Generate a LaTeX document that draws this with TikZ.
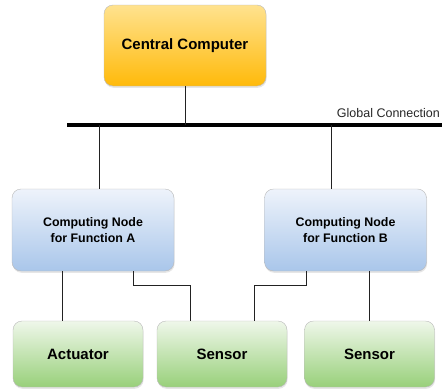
\documentclass[tikz,border=0pt]{standalone}
\usepackage{fontspec}
\setmainfont{Liberation Sans}
\usetikzlibrary{shadows}

\definecolor{orangeTop}{HTML}{FFE28F}
\definecolor{orangeBot}{HTML}{FFBA0A}
\definecolor{blueTop}{HTML}{EEF3FB}
\definecolor{blueBot}{HTML}{A9C6EA}
\definecolor{greenTop}{HTML}{EFF7EA}
\definecolor{greenBot}{HTML}{98D07A}
\definecolor{wireGray}{HTML}{222222}

\begin{document}
\begin{tikzpicture}[x=1pt, y=-1pt,
    box/.style={draw=gray!55, rounded corners=9pt, align=center, font=\bfseries,
        drop shadow={opacity=0.2, shadow xshift=0.6pt, shadow yshift=-1.8pt}},
    central/.style={box, top color=orangeTop, bottom color=orangeBot,
        minimum width=162pt, minimum height=81pt, font=\fontsize{15}{18}\bfseries},
    function/.style={box, top color=blueTop, bottom color=blueBot,
        minimum width=162pt, minimum height=82pt, font=\fontsize{12.4}{16}\bfseries},
    device/.style={box, top color=greenTop, bottom color=greenBot,
        minimum width=130pt, minimum height=66pt, font=\fontsize{15}{18}\bfseries},
    wire/.style={draw=wireGray, line width=0.9pt},
    bus/.style={draw=black, line width=4pt}]
    \useasboundingbox (0,0) rectangle (442,391);

    \node[central]  (Central)  at (185,45.5)  {Central Computer};
    \node[function] (Function A) at (93,230)  {Computing Node\\for Function A};
    \node[function] (Function B) at (345.5,230) {Computing Node\\for Function B};
    \node[device]   (Actuator) at (78,354)    {Actuator};
    \node[device]   (Sensor A) at (222,354)   {Sensor};
    \node[device]   (Sensor B) at (369.5,354) {Sensor};

    % global connection
    \coordinate (Bus West) at (67,125);
    \coordinate (Bus East) at (442,125);
    \coordinate (Tap A) at (99,125);
    \coordinate (Tap B) at (331,125);
    \draw[bus] (Bus West) -- (Bus East);
    \node[anchor=base east, inner sep=0pt, font=\fontsize{12.5}{15}\selectfont, text=black!85]
        (Bus Label) at (440,117) {Global Connection};

    \draw[wire] (Central.south) -- (Central.south |- Bus West);
    \draw[wire] (Tap A) -- (Tap A |- Function A.north);
    \draw[wire] (Tap B) -- (Tap B |- Function B.north);

    \draw[wire] ([xshift=-31pt]Function A.south) -- ([xshift=-16pt]Actuator.north);
    \draw[wire] ([xshift=40pt]Function A.south) -- ++(0,14) -| ([xshift=-32pt]Sensor A.north);
    \draw[wire] ([xshift=-39.5pt]Function B.south) -- ++(0,14) -| ([xshift=32pt]Sensor A.north);
    \draw[wire] ([xshift=23.5pt]Function B.south) -- ([xshift=-0.5pt]Sensor B.north);
\end{tikzpicture}
\end{document}
